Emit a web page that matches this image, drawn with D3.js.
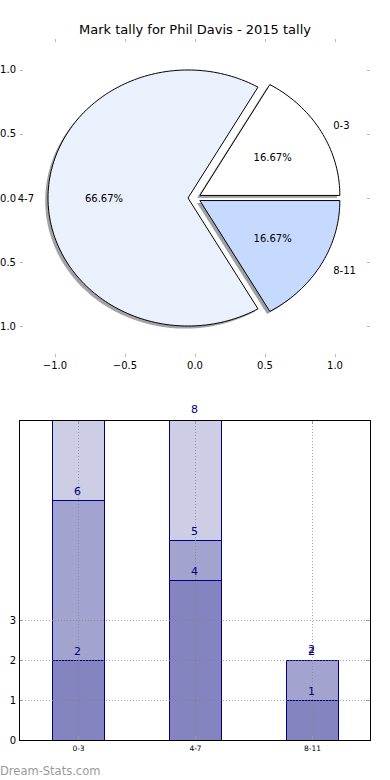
<!DOCTYPE html>
<html><head><meta charset="utf-8">
<script src="https://cdn.jsdelivr.net/npm/d3@7"></script>
<style>body{margin:0;background:#fff} svg{display:block;font-family:"DejaVu Sans",sans-serif}</style>
</head><body><svg id="c" width="390" height="780"></svg>
<script>
const title = "Mark tally for Phil Davis - 2015 tally";
const pieCategories = ["0-3", "4-7", "8-11"];
const pieValues = [1, 4, 1];
const pieColors = ["#ffffff", "#ebf0fd", "#c6d9fe"];
const pieExplode = [0.04, 0.05, 0.04];
const pieTicks = [-1, -0.5, 0, 0.5, 1];

const barCategories = ["0-3", "4-7", "8-11"];
const layer1 = [2, 4, 1];
const layer2 = [4, 1, 1];
const layer3 = [2, 3, 0];
const layerColors = ["#8484c1", "#a3a3d0", "#cdcde5"];
const layerLabelShown = [[true, true, true], [true, true, true], [false, true, true]];
const barYTicks = [0, 1, 2, 3];
const watermark = "Dream-Stats.com";

const svg = d3.select("#c");

// ---------- Pie ----------
const px = d3.scaleLinear().domain([-1.25, 1.25]).range([20, 370]);
const py = d3.scaleLinear().domain([-1.242, 1.242]).range([357, 39]);
const arcs = d3.pie().sort(null).startAngle(0).endAngle(2 * Math.PI)(pieValues);
const total = d3.sum(pieValues);

function wedgePath(a0, a1, cx, cy) {
  const pts = [[px(cx), py(cy)]];
  const n = Math.max(12, Math.ceil((a1 - a0) / (Math.PI / 120)));
  for (let i = 0; i <= n; i++) {
    const t = a0 + (a1 - a0) * i / n;
    pts.push([px(cx + Math.cos(t)), py(cy + Math.sin(t))]);
  }
  return d3.line()(pts) + "Z";
}
const pieG = svg.append("g");
const wedges = arcs.map((d, i) => {
  const mid = (d.startAngle + d.endAngle) / 2;
  const e = pieExplode[i];
  return {d, i, mid, cx: e * Math.cos(mid), cy: e * Math.sin(mid)};
});
// shadows
wedges.forEach(w => {
  const c = d3.rgb(pieColors[w.i]);
  pieG.append("path")
    .attr("d", wedgePath(w.d.startAngle, w.d.endAngle, w.cx - 0.02, w.cy - 0.02))
    .attr("fill", d3.rgb(c.r * 0.3, c.g * 0.3, c.b * 0.3))
    .attr("fill-opacity", 0.5);
});
wedges.forEach(w => {
  pieG.append("path")
    .attr("d", wedgePath(w.d.startAngle, w.d.endAngle, w.cx, w.cy))
    .attr("fill", pieColors[w.i])
    .attr("stroke", "#000").attr("stroke-width", 1).attr("stroke-linejoin", "miter");
});
wedges.forEach(w => {
  const lx = w.cx + 1.1 * Math.cos(w.mid), ly = w.cy + 1.1 * Math.sin(w.mid);
  pieG.append("text").attr("x", px(lx)).attr("y", py(ly))
    .attr("text-anchor", lx > 0 ? "start" : "end").attr("dominant-baseline", "central")
    .attr("font-size", 10).attr("fill", "#000").text(pieCategories[w.i]);
  const tx = w.cx + 0.6 * Math.cos(w.mid), ty = w.cy + 0.6 * Math.sin(w.mid);
  pieG.append("text").attr("x", px(tx)).attr("y", py(ty))
    .attr("text-anchor", "middle").attr("dominant-baseline", "central")
    .attr("font-size", 10).attr("fill", "#000")
    .text((100 * pieValues[w.i] / total).toFixed(2) + "%");
});
// pie axes ticks (no frame)
const fmt = v => d3.format(".1f")(v).replace("-", "\u2212");
const tickCol = "#b8b8b8";
pieTicks.forEach(t => {
  const x = Math.round(px(t)) + 0.5;
  pieG.append("line").attr("x1", x).attr("x2", x).attr("y1", 39).attr("y2", 42).attr("stroke", tickCol);
  pieG.append("line").attr("x1", x).attr("x2", x).attr("y1", 354).attr("y2", 357).attr("stroke", tickCol);
  pieG.append("text").attr("x", px(t)).attr("y", 369).attr("text-anchor", "middle")
    .attr("font-size", 10).attr("fill", "#000").text(fmt(t));
  const y = Math.round(py(t)) + 0.5;
  pieG.append("line").attr("x1", 20).attr("x2", 23).attr("y1", y).attr("y2", y).attr("stroke", tickCol);
  pieG.append("line").attr("x1", 367).attr("x2", 370).attr("y1", y).attr("y2", y).attr("stroke", tickCol);
  pieG.append("text").attr("x", 16).attr("y", py(t)).attr("text-anchor", "end")
    .attr("dominant-baseline", "central").attr("font-size", 10).attr("fill", "#000").text(fmt(t));
});
svg.append("text").attr("x", 195).attr("y", 34).attr("text-anchor", "middle")
  .attr("font-size", 13).attr("fill", "#000").text(title);

// ---------- Stacked bars ----------
const bx = d3.scaleBand().domain(barCategories).range([19, 370]).paddingInner(0.556).paddingOuter(0.278);
const by = d3.scaleLinear().domain([0, 8]).range([740, 420]);
const rows = barCategories.map((c, i) => ({cat: c, a: layer1[i], b: layer2[i], c: layer3[i]}));
const series = d3.stack().keys(["a", "b", "c"])(rows);

svg.append("clipPath").attr("id", "clipB").append("rect")
  .attr("x", 19).attr("y", 420).attr("width", 351).attr("height", 320);
const barG = svg.append("g").attr("clip-path", "url(#clipB)");
series.forEach((s, li) => {
  barG.selectAll(null).data(s).enter().append("rect")
    .attr("x", d => Math.round(bx(d.data.cat)) + 0.5)
    .attr("width", Math.round(bx.bandwidth()))
    .attr("y", d => Math.round(by(d[1])) + 0.5)
    .attr("height", d => Math.max(0, Math.round(by(d[0])) - Math.round(by(d[1]))))
    .attr("fill", layerColors[li])
    .attr("stroke", "#000080").attr("stroke-width", 1);
});
// grid (on top of bars)
const gridG = svg.append("g").attr("stroke", "#808080").attr("stroke-opacity", 0.7)
  .attr("stroke-dasharray", "1,2");
barYTicks.forEach(t => {
  const y = Math.round(by(t)) + 0.5;
  gridG.append("line").attr("x1", 19).attr("x2", 370).attr("y1", y).attr("y2", y);
});
barCategories.forEach(c => {
  const x = Math.round(bx(c) + bx.bandwidth() / 2) + 0.5;
  gridG.append("line").attr("x1", x).attr("x2", x).attr("y1", 420).attr("y2", 740);
});
// ticks
const tG = svg.append("g").attr("stroke", "#999");
barYTicks.forEach(t => {
  const y = Math.round(by(t)) + 0.5;
  tG.append("line").attr("x1", 19).attr("x2", 23).attr("y1", y).attr("y2", y);
  tG.append("line").attr("x1", 366).attr("x2", 370).attr("y1", y).attr("y2", y);
  svg.append("text").attr("x", 16).attr("y", by(t)).attr("text-anchor", "end")
    .attr("dominant-baseline", "central").attr("font-size", 10).attr("fill", "#000").text(t);
});
barCategories.forEach(c => {
  const x = Math.round(bx(c) + bx.bandwidth() / 2) + 0.5;
  tG.append("line").attr("x1", x).attr("x2", x).attr("y1", 420).attr("y2", 424);
  tG.append("line").attr("x1", x).attr("x2", x).attr("y1", 736).attr("y2", 740);
  svg.append("text").attr("x", x).attr("y", 751).attr("text-anchor", "middle")
    .attr("font-size", 7.5).attr("fill", "#000").text(c);
});
svg.append("rect").attr("x", 19.5).attr("y", 420.5).attr("width", 351).attr("height", 320)
  .attr("fill", "none").attr("stroke", "#000").attr("stroke-width", 1);
// value labels
const labelOffset = [5, 5, 7];
series.forEach((s, li) => {
  s.forEach((d, i) => {
    if (!layerLabelShown[li][i]) return;
    svg.append("text").attr("x", bx(d.data.cat) + bx.bandwidth() / 2)
      .attr("y", by(d[1]) - labelOffset[li]).attr("text-anchor", "middle")
      .attr("font-size", 11).attr("fill", "#000080").text(d[1]);
  });
});
svg.append("text").attr("x", 0).attr("y", 775).attr("font-size", 11.5)
  .attr("fill", "#9a9a9a").text(watermark);
</script></body></html>
